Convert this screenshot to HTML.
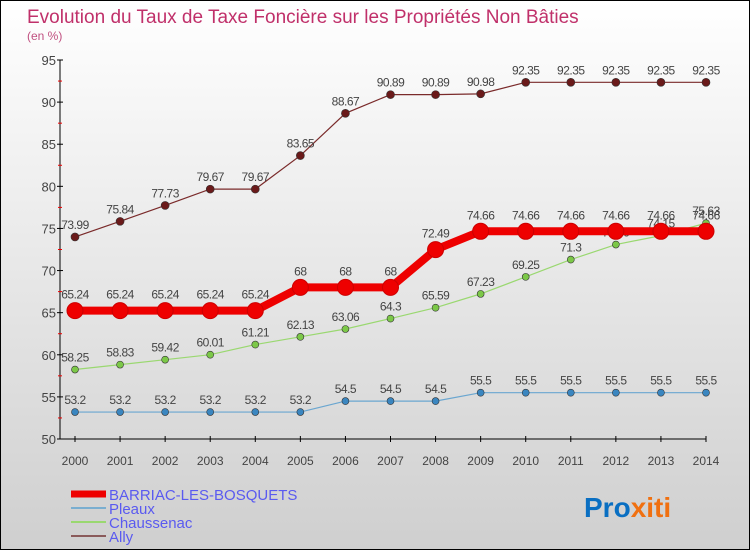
<!DOCTYPE html>
<html><head><meta charset="utf-8"><style>
body{margin:0}
#c{width:748px;height:548px;border:1px solid #000;background:linear-gradient(#ffffff,#cfcfcf);position:relative;overflow:hidden;font-family:"Liberation Sans",sans-serif}
svg text{font-family:"Liberation Sans",sans-serif}
</style></head><body>
<div id="c">
<svg id="s" width="748" height="548">
<text x="26" y="22" font-size="19" fill="#c0306a">Evolution du Taux de Taxe Foncière sur les Propriétés Non Bâties</text>
<text x="26" y="39" font-size="12" fill="#c05080">(en %)</text>
<g>
<text x="583" y="516" font-size="28" font-weight="bold" fill="#0a6fc2">Pro<tspan fill="#f07010">x</tspan><tspan fill="#f07010">iti</tspan></text>
</g>
</svg>
</div>
<script>
const years=[2000,2001,2002,2003,2004,2005,2006,2007,2008,2009,2010,2011,2012,2013,2014];
const barriac=[65.24,65.24,65.24,65.24,65.24,68,68,68,72.49,74.66,74.66,74.66,74.66,74.66,74.66];
const pleaux=[53.2,53.2,53.2,53.2,53.2,53.2,54.5,54.5,54.5,55.5,55.5,55.5,55.5,55.5,55.5];
const chaussenac=[58.25,58.83,59.42,60.01,61.21,62.13,63.06,64.3,65.59,67.23,69.25,71.3,73.09,74.15,75.63];
const ally=[73.99,75.84,77.73,79.67,79.67,83.65,88.67,90.89,90.89,90.98,92.35,92.35,92.35,92.35,92.35];
const yTicks=[50,55,60,65,70,75,80,85,90,95];
const names=["BARRIAC-LES-BOSQUETS","Pleaux","Chaussenac","Ally"];
const NS="http://www.w3.org/2000/svg",s=document.getElementById('s');
const X=i=>74+i*(705-74)/(years.length-1);
const Y=v=>438-(v-50)*(438-59)/45;
function el(t,a,p){const e=document.createElementNS(NS,t);for(const k in a)e.setAttribute(k,a[k]);(p||s).appendChild(e);return e;}
const ax=el('g',{});


el('line',{x1:59,y1:59,x2:59,y2:438,stroke:'#000'},ax);
el('line',{x1:59,y1:438,x2:705,y2:438,stroke:'#000'},ax);
yTicks.forEach((v,i)=>{
 el('line',{x1:56,x2:62,y1:Y(v),y2:Y(v),stroke:'#000'},ax);
 if(i<yTicks.length-1)el('line',{x1:57,x2:61,y1:Y(v+2.5),y2:Y(v+2.5),stroke:'#e00'},ax);
 const t=el('text',{x:55,y:Y(v)+5,'text-anchor':'end','font-size':13,fill:'#444'},ax);
 
 
 t.textContent=v;
});
years.forEach((y,i)=>{
 el('line',{x1:X(i),x2:X(i),y1:435,y2:441,stroke:'#000'},ax);
 const t=el('text',{x:X(i),y:464,'text-anchor':'middle','font-size':12,fill:'#444'},ax);
 
 
 t.textContent=y;
});
const series=[[ally,'#7a2a2a','#6a1a1a',1.2,4,'ally'],[chaussenac,'#9ad870','#7cc848',1.2,3.5,'chaussenac'],[pleaux,'#6aa6d0','#3a86c0',1.2,3.5,'pleaux'],[barriac,'#ee0000','#ee0000',8,8,'barriac']];
series.forEach(([d,c,f,w,r,n])=>{
 const g=el('g',{});
 
 
 el('polyline',{points:d.map((v,i)=>X(i)+','+Y(v)).join(' '),fill:'none',stroke:c,'stroke-width':w},g);
 d.forEach((v,i)=>{
  const p=el('circle',{cx:X(i),cy:Y(v),r:r,fill:f,stroke:n=='barriac'?'#cc0000':'#333','stroke-width':n=='barriac'?1:0.6},g);
  
  
  const t=el('text',{x:X(i),y:Y(v)-(n=='barriac'?12:8),'text-anchor':'middle','font-size':12,fill:'#444','letter-spacing':'-0.5'},g);
  
  
  t.textContent=String(v);
 });
});
const lg=el('g',{});


const lc=['#ee0000','#7aaed0','#9ad870','#8a5a5a'],lw=[7,2,2,2];
names.forEach((n,i)=>{
 const y=493+i*14;
 el('line',{x1:70,x2:105,y1:y,y2:y,stroke:lc[i],'stroke-width':lw[i]},lg);
 const t=el('text',{x:108,y:y+6,'font-size':15,fill:'#5a5af0'},lg);
 
 
 t.textContent=n;
});
</script>
</body></html>
